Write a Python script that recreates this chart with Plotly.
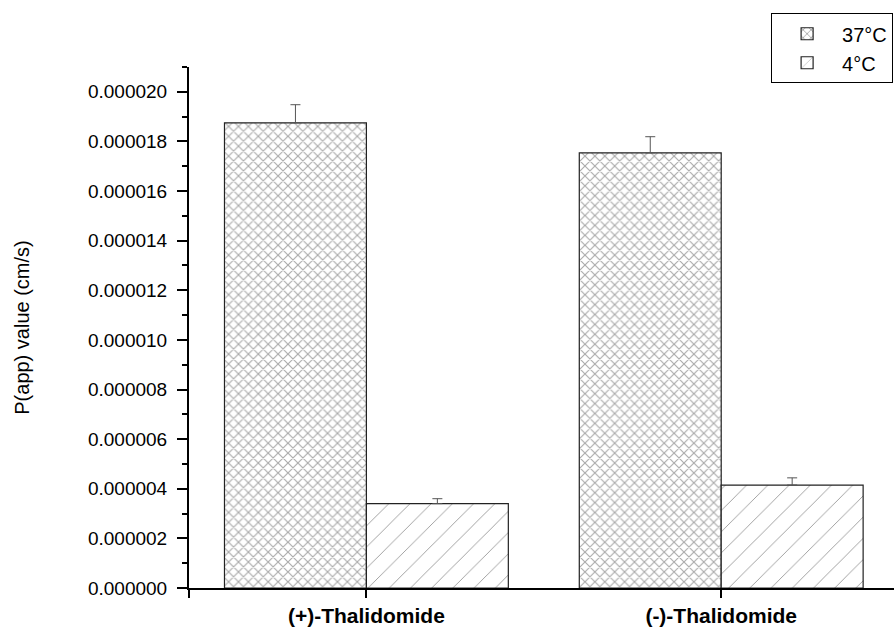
import plotly.graph_objects as go

categories = ["(+)-Thalidomide", "(-)-Thalidomide"]
series_names = ["37°C", "4°C"]
values_37 = [1.875e-5, 1.754e-5]
errors_37 = [0.73e-6, 0.65e-6]
values_4 = [3.40e-6, 4.15e-6]
errors_4 = [0.20e-6, 0.29e-6]
y_ticks = [i * 2e-6 for i in range(11)]
y_ticklabels = ["%.6f" % v for v in y_ticks]

xpos = list(range(len(categories)))

fig = go.Figure()
fig.add_trace(go.Bar(
    x=xpos, y=values_37, name=series_names[0],
    marker=dict(color="white", line=dict(color="#222222", width=1.2),
                pattern=dict(shape="x", size=7, solidity=0.3, fgcolor="#555555", bgcolor="white")),
    error_y=dict(type="data", array=errors_37, arrayminus=[0]*len(errors_37), symmetric=False,
                 color="#555555", thickness=1, width=5),
))
fig.add_trace(go.Bar(
    x=xpos, y=values_4, name=series_names[1],
    marker=dict(color="white", line=dict(color="#222222", width=1.2),
                pattern=dict(shape="/", size=15, solidity=0.06, fgcolor="#333333", bgcolor="white")),
    error_y=dict(type="data", array=errors_4, arrayminus=[0]*len(errors_4), symmetric=False,
                 color="#555555", thickness=1, width=5),
))

font_family = "Liberation Sans, Arial, sans-serif"
fig.update_layout(
    width=894, height=631,
    margin=dict(l=189, r=0, t=67, b=43, autoexpand=False),
    paper_bgcolor="white", plot_bgcolor="white",
    barmode="group", bargap=0.2, bargroupgap=0,
    font=dict(family=font_family, size=19, color="black"),
    showlegend=True,
    legend=dict(
        xref="container", yref="container", x=0.999, y=0.979,
        xanchor="right", yanchor="top",
        bordercolor="black", borderwidth=1, bgcolor="white",
        font=dict(size=20), itemwidth=60, tracegroupgap=2,
    ),
    xaxis=dict(
        range=[-0.5, 1.487],
        tickmode="array", tickvals=[-0.5] + xpos, ticktext=[""] + categories,
        tickfont=dict(size=21, family=font_family, weight="bold"),
        showline=True, linecolor="black", linewidth=2,
        ticks="outside", ticklen=8, tickwidth=1.5, tickcolor="black",
        showgrid=False, zeroline=False,
    ),
    yaxis=dict(
        range=[0, 2.1e-5],
        tickmode="array", tickvals=y_ticks, ticktext=y_ticklabels,
        tickfont=dict(size=19, family=font_family),
        showline=True, linecolor="black", linewidth=2,
        ticks="outside", ticklen=10, tickwidth=1.5, tickcolor="black",
        ticklabelstandoff=6,
        minor=dict(dtick=1e-6, tick0=0, ticks="outside", ticklen=5, tickwidth=1.5, tickcolor="black", showgrid=False),
        showgrid=False, zeroline=False,
        title=dict(text="P(app) value (cm/s)", font=dict(size=20, family=font_family), standoff=53),
    ),
)

fig.write_html("out.html")
